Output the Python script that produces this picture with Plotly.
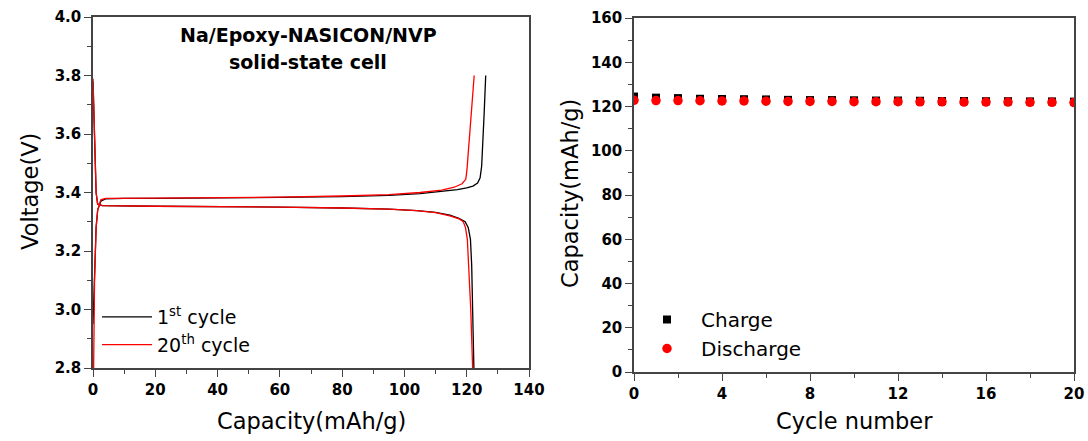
import plotly.graph_objects as go

# ---------------- data ----------------
# Left panel: voltage profiles (capacity in mAh/g, voltage in V)
c1_charge_cap = [0, 0.5, 1.0, 1.5, 2.5, 4, 10, 20, 40, 60, 80, 95, 105, 112, 117, 120, 122, 123.5, 124.3, 124.8, 125.2, 125.6, 126.1]
c1_charge_v   = [2.95, 3.15, 3.28, 3.34, 3.37, 3.378, 3.38, 3.38, 3.381, 3.383, 3.386, 3.39, 3.396, 3.403, 3.41, 3.416, 3.422, 3.432, 3.45, 3.49, 3.56, 3.67, 3.80]
c1_dis_cap = [0, 0.3, 0.6, 1.0, 1.5, 3, 20, 40, 60, 80, 95, 104, 110, 114.6, 117.5, 119.5, 120.5, 121.2, 121.6, 121.9, 122.3]
c1_dis_v   = [3.78, 3.65, 3.5, 3.4, 3.36, 3.355, 3.353, 3.352, 3.35, 3.347, 3.343, 3.338, 3.332, 3.323, 3.312, 3.30, 3.28, 3.24, 3.15, 3.0, 2.80]

c20_charge_cap = [0.2, 0.5, 1.0, 1.5, 2.5, 4, 20, 40, 60, 80, 95, 105, 112, 116, 118.5, 119.7, 120.1, 120.6, 121.3, 121.9, 122.4]
c20_charge_v   = [2.80, 3.10, 3.28, 3.34, 3.375, 3.38, 3.381, 3.382, 3.384, 3.388, 3.393, 3.40, 3.408, 3.418, 3.43, 3.445, 3.48, 3.55, 3.65, 3.73, 3.80]
c20_dis_cap = [0, 0.3, 0.6, 1.0, 1.5, 3, 20, 40, 60, 80, 95, 104, 110, 114.6, 117.5, 118.9, 119.6, 120.2, 120.7, 121.3, 121.9]
c20_dis_v   = [3.79, 3.65, 3.5, 3.4, 3.36, 3.355, 3.353, 3.352, 3.35, 3.347, 3.343, 3.338, 3.331, 3.32, 3.31, 3.30, 3.28, 3.24, 3.15, 3.0, 2.80]

# Right panel: cycling capacity
cycles = list(range(0, 21))
charge_cap = [124.5, 124.0, 123.8, 123.5, 123.4, 123.3, 123.2, 123.0, 122.9, 122.9, 122.8,
              122.7, 122.7, 122.6, 122.5, 122.5, 122.4, 122.4, 122.3, 122.3, 122.2]
discharge_cap = [122.8, 122.7, 122.7, 122.6, 122.5, 122.5, 122.4, 122.3, 122.3, 122.3, 122.2,
                 122.2, 122.2, 122.1, 122.1, 122.0, 122.0, 122.0, 121.9, 121.9, 121.8]

left_xticks = [0, 20, 40, 60, 80, 100, 120, 140]
left_yticks = [2.8, 3.0, 3.2, 3.4, 3.6, 3.8, 4.0]
right_xticks = [0, 4, 8, 12, 16, 20]
right_yticks = [0, 20, 40, 60, 80, 100, 120, 140, 160]

# ---------------- figure ----------------
W, H = 1088, 441
FONT = "DejaVu Sans"
AXC = "#444444"

fig = go.Figure()

fig.add_trace(go.Scatter(
    x=c1_charge_cap + [None] + c1_dis_cap, y=c1_charge_v + [None] + c1_dis_v,
    mode="lines", line=dict(color="black", width=1.3), name="1<sup>st</sup> cycle",
    xaxis="x", yaxis="y", legend="legend"))
fig.add_trace(go.Scatter(
    x=c20_charge_cap + [None] + c20_dis_cap, y=c20_charge_v + [None] + c20_dis_v,
    mode="lines", line=dict(color="red", width=1.3), name="20<sup>th</sup> cycle",
    xaxis="x", yaxis="y", legend="legend"))

fig.add_trace(go.Scatter(
    x=cycles, y=charge_cap, mode="markers",
    marker=dict(symbol="square", size=8, color="black"), name="Charge",
    xaxis="x2", yaxis="y2", legend="legend2"))
fig.add_trace(go.Scatter(
    x=cycles, y=discharge_cap, mode="markers",
    marker=dict(symbol="circle", size=9.5, color="red"), name="Discharge",
    xaxis="x2", yaxis="y2", legend="legend2"))

def px_x(p):
    return p / W

def px_y(p):
    return 1 - p / H

tickfont = dict(family=FONT, size=15, color="black", weight="bold")
common = dict(showline=True, linecolor=AXC, linewidth=1.5, mirror=True,
              ticks="outside", ticklen=7, tickwidth=1.3, tickcolor=AXC,
              showgrid=False, zeroline=False, tickfont=tickfont, automargin=False)

def ann(text, x, y, size, bold=False, angle=0):
    f = dict(family=FONT, size=size, color="black")
    if bold:
        f["weight"] = "bold"
    return dict(text=text, x=px_x(x), y=px_y(y), xref="paper", yref="paper",
                xanchor="center", yanchor="middle", showarrow=False,
                textangle=angle, font=f)

fig.update_layout(
    width=W, height=H, margin=dict(l=0, r=0, t=0, b=0, pad=0, autoexpand=False),
    paper_bgcolor="white", plot_bgcolor="white",
    xaxis=dict(domain=[px_x(93), px_x(529)], range=[0, 140], tickvals=left_xticks,
               minor=dict(dtick=10, ticklen=4, tickcolor=AXC, ticks="outside"),
               anchor="y", **common),
    yaxis=dict(domain=[px_y(368), px_y(17)], range=[2.8, 4.0], tickvals=left_yticks,
               tickformat=".1f",
               minor=dict(dtick=0.1, ticklen=4, tickcolor=AXC, ticks="outside"),
               anchor="x", **common),
    xaxis2=dict(domain=[px_x(634), px_x(1074)], range=[0, 20], tickvals=right_xticks,
                minor=dict(dtick=2, ticklen=4, tickcolor=AXC, ticks="outside"),
                anchor="y2", **common),
    yaxis2=dict(domain=[px_y(372), px_y(18)], range=[0, 160], tickvals=right_yticks,
                minor=dict(dtick=10, ticklen=4, tickcolor=AXC, ticks="outside"),
                anchor="x2", **common),
    legend=dict(x=px_x(97), y=px_y(298), xanchor="left", yanchor="top",
                bgcolor="rgba(0,0,0,0)", font=dict(family=FONT, size=19, color="black"),
                itemwidth=50, tracegroupgap=0),
    legend2=dict(x=px_x(633), y=px_y(300), xanchor="left", yanchor="top",
                 bgcolor="rgba(0,0,0,0)", font=dict(family=FONT, size=20, color="black"),
                 itemwidth=58, tracegroupgap=0),
    annotations=[
        ann("Na/Epoxy-NASICON/NVP", 308, 35, 19, bold=True),
        ann("solid-state cell", 308, 62, 19, bold=True),
        ann("Capacity(mAh/g)", 311, 421, 22.5),
        ann("Voltage(V)", 30, 192, 22.5, angle=-90),
        ann("Cycle number", 854, 421, 22.5),
        ann("Capacity(mAh/g)", 570, 194, 22.5, angle=-90),
    ],
)

fig.write_html("out.html")
